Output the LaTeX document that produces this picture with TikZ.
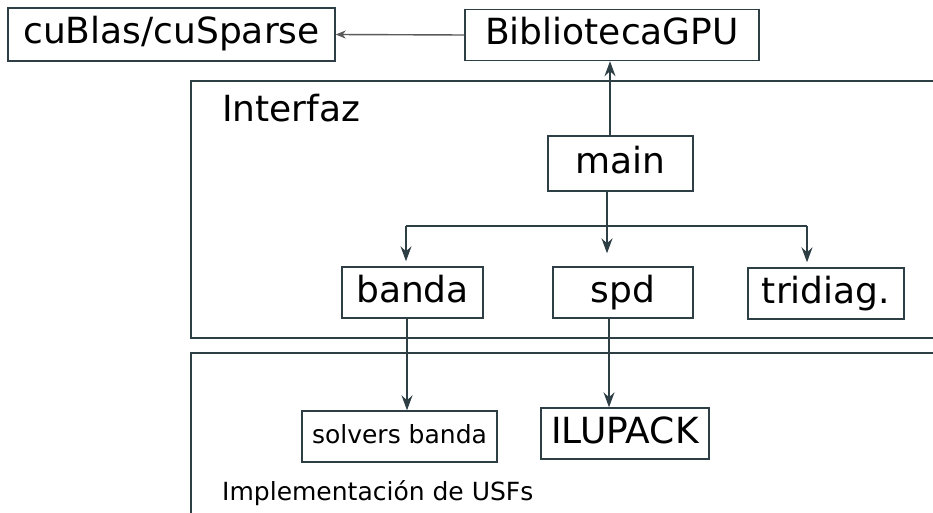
\documentclass[tikz,border=0pt]{standalone}
\usepackage{fontspec}
\setmainfont{DejaVu Sans}
\usetikzlibrary{arrows.meta}

\begin{document}
\begin{tikzpicture}[x=1pt,y=-1pt]
\definecolor{edge}{HTML}{2E3E45}
\definecolor{lgray}{HTML}{5A5A5A}
\tikzset{
  box/.style={draw=edge,line width=1.4pt,inner sep=0pt,text height=26pt,text depth=7pt,font=\fontsize{36}{40}\selectfont},
  smallbox/.style={box,text height=18pt,text depth=5pt,font=\fontsize{25}{30}\selectfont},
  frame/.style={draw=edge,line width=1.4pt},
  arr/.style={draw=edge,line width=1.4pt,-{Stealth[length=15pt,width=11pt,inset=5pt]}}
}
\useasboundingbox (0,0) rectangle (933,513);
\clip (0,0) rectangle (933,513);

% layer frames
\draw[frame] (940,81) -- (191,81) -- (191,338) -- (940,338);
\draw[frame] (940,353) -- (191,353) -- (191,520);
\node[anchor=base west,inner sep=0pt,font=\fontsize{36}{40}\selectfont] (interfaz) at (222,121.5) {Interfaz};
\node[anchor=base west,inner sep=0pt,font=\fontsize{25}{30}\selectfont] (usf) at (222,500) {Implementación de USFs};

% boxes
\node[box,minimum width=327pt,minimum height=53pt] (cublas) at (171.5,34.5) {cuBlas/cuSparse};
\node[box,minimum width=294pt,minimum height=51pt] (gpu) at (612,35) {BibliotecaGPU};
\node[box,minimum width=145pt,minimum height=55pt] (main) at (620.5,163.5) {main};
\node[box,minimum width=141pt,minimum height=51pt] (banda) at (412.5,292.5) {banda};
\node[box,minimum width=140pt,minimum height=51pt] (spd) at (623,292.5) {spd};
\node[box,minimum width=156pt,minimum height=51pt] (tridiag) at (826,293.5) {tridiag.};
\node[smallbox,minimum width=195pt,minimum height=51pt] (solvers) at (399.5,436.5) {solvers banda};
\node[box,minimum width=168pt,minimum height=51pt] (ilupack) at (625,433.5) {ILUPACK};

% connectors
\draw[arr,draw=lgray,-{Stealth[length=10pt,width=8pt,inset=3pt]}] (gpu.west) -- (cublas.east);
\draw[arr] ([xshift=-10.5pt]main.north) -- ([xshift=-10.5pt]main.north |- gpu.south);
\coordinate (split) at (607,226);
\coordinate (bl) at (406,226);
\coordinate (br) at (807,226);
\draw[frame] (main.south -| split) -- (split);
\draw[frame] (bl) -- (br);
\foreach \c/\n/\s in {bl/banda/5,split/spd/13,br/tridiag/5} {
  \draw[arr,shorten >=\s pt] (\c) -- (\c |- \n.north);
}
\draw[arr] ([xshift=-5.5pt]banda.south) -- ([xshift=-5.5pt]banda.south |- solvers.north);
\draw[arr] ([xshift=-14pt]spd.south) -- ([xshift=-14pt]spd.south |- ilupack.north);
\end{tikzpicture}
\end{document}
